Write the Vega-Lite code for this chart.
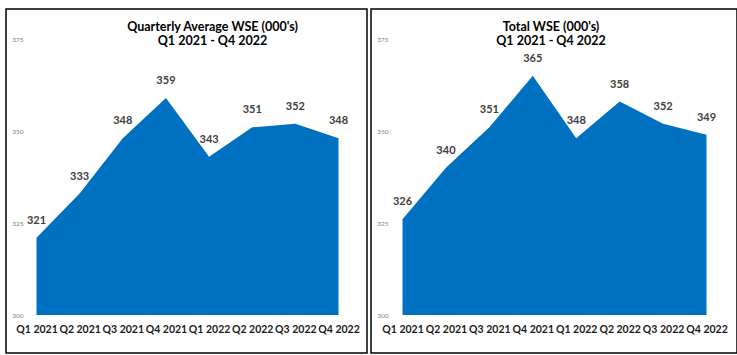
{
  "$schema": "https://vega.github.io/schema/vega-lite/v6.json",
  "padding": {"left": 5, "top": 8, "right": 1, "bottom": 2},
  "spacing": 2,
  "background": "white",
  "config": {
    "font": "Lato",
    "view": {"stroke": "black", "strokeWidth": 1.5}
  },
  "datasets": {
    "avg": [
      {"quarter": "Q1 2021", "value": 321},
      {"quarter": "Q2 2021", "value": 333},
      {"quarter": "Q3 2021", "value": 348},
      {"quarter": "Q4 2021", "value": 359},
      {"quarter": "Q1 2022", "value": 343},
      {"quarter": "Q2 2022", "value": 351},
      {"quarter": "Q3 2022", "value": 352},
      {"quarter": "Q4 2022", "value": 348}
    ],
    "total": [
      {"quarter": "Q1 2021", "value": 326},
      {"quarter": "Q2 2021", "value": 340},
      {"quarter": "Q3 2021", "value": 351},
      {"quarter": "Q4 2021", "value": 365},
      {"quarter": "Q1 2022", "value": 348},
      {"quarter": "Q2 2022", "value": 358},
      {"quarter": "Q3 2022", "value": 352},
      {"quarter": "Q4 2022", "value": 349}
    ]
  },
  "hconcat": [
    {
      "width": 361,
      "height": 344,
      "data": {"name": "avg"},
      "title": {
        "text": ["Quarterly Average WSE (000's)", "Q1 2021 - Q4 2022"],
        "fontSize": 12.5,
        "fontWeight": "bold",
        "color": "#000000",
        "anchor": "middle",
        "baseline": "bottom",
        "lineHeight": 14,
        "offset": -51,
        "dx": 26
      },
      "encoding": {
        "x": {
          "field": "quarter", "type": "ordinal", "sort": null,
          "scale": {"type": "point", "range": [30.5, 332.5], "padding": 0},
          "axis": {"title": null, "offset": -38, "domain": false, "ticks": false, "grid": false, "labelAngle": 0, "labelPadding": 9, "labelFontSize": 10.5, "labelFontWeight": "bold", "labelColor": "#1a1a1a"}
        },
        "y": {
          "field": "value", "type": "quantitative",
          "scale": {"domain": [300, 375], "range": [306, 30], "zero": false, "nice": false},
          "axis": {"title": null, "offset": -20, "values": [300, 325, 350, 375], "domain": false, "ticks": false, "grid": false, "labelPadding": 3, "labelFontSize": 6.5, "labelColor": "#7f7f7f"}
        }
      },
      "layer": [
        {"mark": {"type": "area", "color": "#0070C0"}, "encoding": {"y2": {"datum": 300}}},
        {"mark": {"type": "text", "dy": -17, "fontWeight": "bold", "fontSize": 11, "color": "#404040"}, "encoding": {"text": {"field": "value"}}}
      ]
    },
    {
      "width": 366,
      "height": 344,
      "data": {"name": "total"},
      "title": {
        "text": ["Total WSE (000's)", "Q1 2021 - Q4 2022"],
        "fontSize": 12.5,
        "fontWeight": "bold",
        "color": "#000000",
        "anchor": "middle",
        "baseline": "bottom",
        "lineHeight": 14,
        "offset": -51,
        "dx": -3
      },
      "encoding": {
        "x": {
          "field": "quarter", "type": "ordinal", "sort": null,
          "scale": {"type": "point", "range": [31.5, 335.5], "padding": 0},
          "axis": {"title": null, "offset": -38, "domain": false, "ticks": false, "grid": false, "labelAngle": 0, "labelPadding": 9, "labelFontSize": 10.5, "labelFontWeight": "bold", "labelColor": "#1a1a1a"}
        },
        "y": {
          "field": "value", "type": "quantitative",
          "scale": {"domain": [300, 375], "range": [306, 30], "zero": false, "nice": false},
          "axis": {"title": null, "offset": -20, "values": [300, 325, 350, 375], "domain": false, "ticks": false, "grid": false, "labelPadding": 3, "labelFontSize": 6.5, "labelColor": "#7f7f7f"}
        }
      },
      "layer": [
        {"mark": {"type": "area", "color": "#0070C0"}, "encoding": {"y2": {"datum": 300}}},
        {"mark": {"type": "text", "dy": -17, "fontWeight": "bold", "fontSize": 11, "color": "#404040"}, "encoding": {"text": {"field": "value"}}}
      ]
    }
  ]
}
